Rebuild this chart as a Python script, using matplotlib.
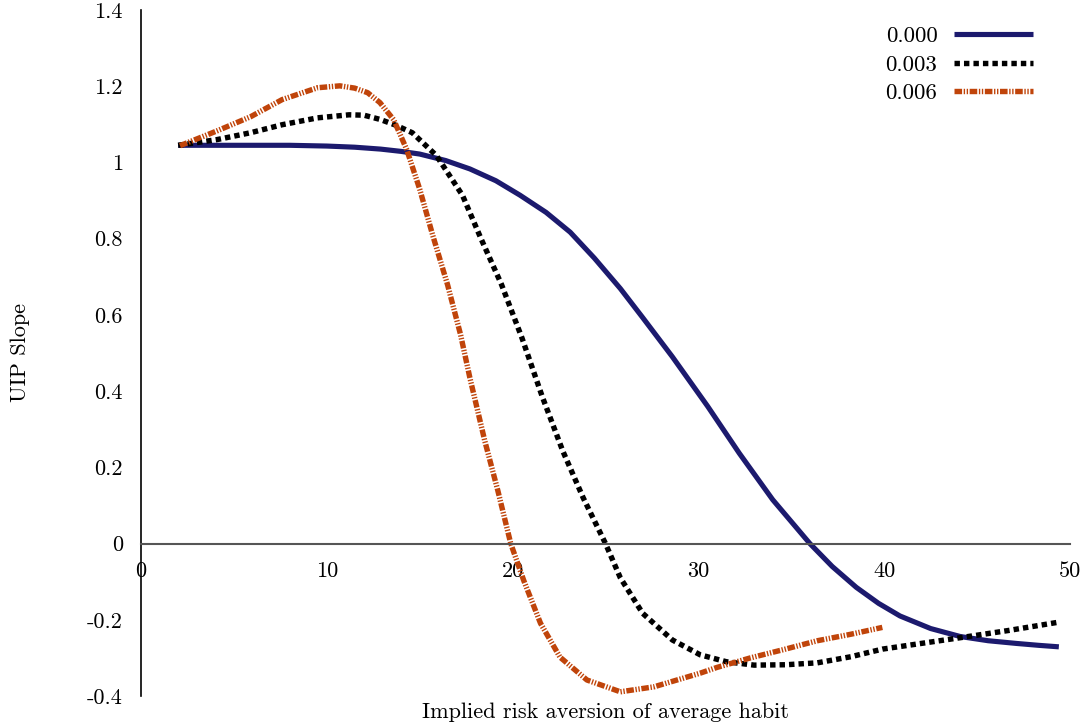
import matplotlib
matplotlib.use("Agg")
import matplotlib.pyplot as plt

plt.rcParams['font.family'] = ['cmr10', 'DejaVu Serif']
plt.rcParams['axes.unicode_minus'] = False
plt.rcParams['axes.formatter.use_mathtext'] = True

# Data
x_000 = [2, 4, 6, 8, 10, 11.5, 12.9, 14.0, 15.0, 16.4, 17.7, 19.1, 20.4, 21.8, 23.1, 24.4, 25.8, 27.0,
         28.6, 30.5, 32.2, 34.0, 36.0, 37.2, 38.5, 39.7, 40.85, 42.5, 44.1, 45.6, 47.1, 48.3, 49.4]
y_000 = [1.045, 1.045, 1.045, 1.045, 1.043, 1.04, 1.035, 1.029, 1.022, 1.005, 0.983, 0.952, 0.914, 0.869,
         0.817, 0.749, 0.669, 0.593, 0.49, 0.36, 0.237, 0.115, 0.0, -0.06, -0.115, -0.157,
         -0.19, -0.223, -0.244, -0.255, -0.262, -0.267, -0.271]

x_003 = [2, 4.1, 5.9, 7.6, 9.5, 11.2, 12.0, 12.86, 13.7, 14.6, 15.9, 17.3, 18.3, 19.4, 20.5, 21.6, 22.7,
         23.8, 25.0, 25.8, 27.0, 28.6, 30.1, 31.5, 33.0, 34.7, 36.4, 38.2, 39.9, 42.0, 44.1, 46.7, 49.3]
y_003 = [1.045, 1.06, 1.078, 1.099, 1.117, 1.125, 1.124, 1.113, 1.098, 1.078, 1.018, 0.914, 0.80, 0.68,
         0.54, 0.385, 0.243, 0.12, 0.0, -0.09, -0.183, -0.253, -0.292, -0.31, -0.319, -0.318, -0.313,
         -0.297, -0.277, -0.262, -0.247, -0.228, -0.207]

x_006 = [2.1, 4.1, 5.9, 7.6, 9.5, 10.7, 11.5, 12.2, 12.86, 13.6, 14.3, 15.0, 15.7, 16.5, 17.2, 17.7, 18.5,
         19.2, 19.9, 20.6, 21.5, 22.55, 24.0, 25.8, 27.6, 30.1, 31.0, 32.8, 34.6, 36.4, 38.2, 39.9]
y_006 = [1.044, 1.083, 1.12, 1.165, 1.196, 1.201, 1.195, 1.183, 1.157, 1.112, 1.034, 0.93, 0.809, 0.679,
         0.548, 0.435, 0.27, 0.14, 0.0, -0.097, -0.209, -0.298, -0.358, -0.389, -0.376, -0.34, -0.325,
         -0.30, -0.278, -0.255, -0.238, -0.22]

labels = ["0.000", "0.003", "0.006"]
xticks = [0, 10, 20, 30, 40, 50]
yticks = [-0.4, -0.2, 0, 0.2, 0.4, 0.6, 0.8, 1, 1.2, 1.4]
ytick_labels = ["-0.4", "-0.2", "0", "0.2", "0.4", "0.6", "0.8", "1", "1.2", "1.4"]

fig = plt.figure(figsize=(10.86, 7.24), dpi=100)
ax = fig.add_axes([141/1086, 1 - 696/724, (1070-141)/1086, (696-10)/724])

ax.plot(x_000, y_000, color='#1c1a6e', lw=3.7, solid_capstyle='butt', solid_joinstyle='round', label=labels[0])
ax.plot(x_003, y_003, color='black', lw=3.9, linestyle=(0, (1, 0.75)), dash_capstyle='butt', label=labels[1])
ax.plot(x_006, y_006, color='#c0440a', lw=3.9, linestyle=(0, (1.4, 0.3, 0.25, 0.3, 0.25, 0.3)),
        dash_capstyle='butt', label=labels[2])

ax.set_xlim(0, 50)
ax.set_ylim(-0.4, 1.4)
ax.spines['top'].set_visible(False)
ax.spines['right'].set_visible(False)
ax.spines['bottom'].set_position(('data', 0))
ax.spines['bottom'].set_color('#555555')
ax.spines['bottom'].set_linewidth(1.5)
ax.spines['left'].set_linewidth(1.2)
ax.set_xticks(xticks)
ax.set_xticklabels([str(t) for t in xticks])
ax.set_yticks(yticks)
ax.set_yticklabels(ytick_labels)
ax.tick_params(axis='both', length=0, labelsize=16)
ax.tick_params(axis='x', pad=13)
ax.tick_params(axis='y', pad=13)

ax.set_xlabel("Implied risk aversion of average habit", fontsize=16)
ax.xaxis.set_label_coords(0.5, -0.01)
ax.set_ylabel("UIP Slope", fontsize=16)
ax.yaxis.set_label_coords(-0.12, 0.5)

leg = ax.legend(loc='upper right', frameon=False, markerfirst=False, fontsize=16.5,
                handlelength=3.45, handletextpad=0.7, labelspacing=0.37,
                bbox_to_anchor=(0.977, 1.0), borderaxespad=0.3)

fig.savefig("out.png", dpi=100)
